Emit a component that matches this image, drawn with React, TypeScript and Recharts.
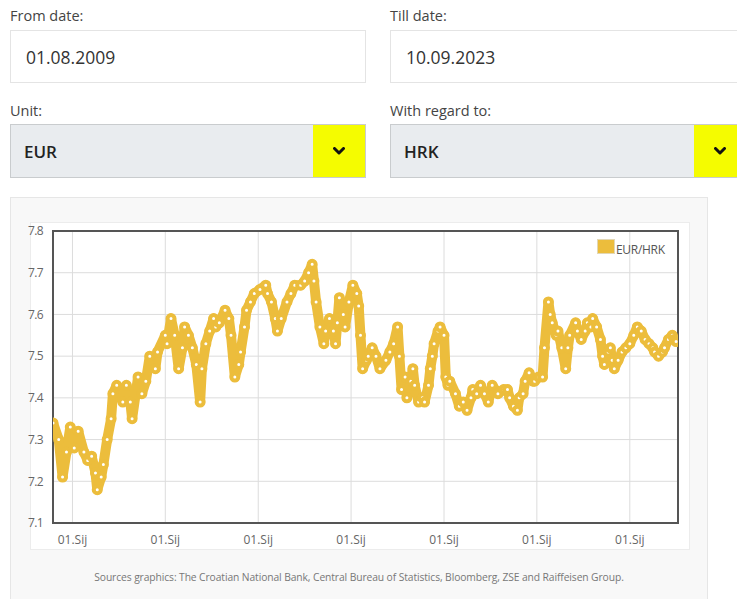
import React from 'react';
import {
  LineChart,
  Line,
  XAxis,
  YAxis,
  CartesianGrid,
  ReferenceArea,
} from 'recharts';

// EUR/HRK middle rate (roughly half-monthly samples)
const dates = [
  '2009-08-01', '2009-09-15', '2009-10-15', '2009-11-15', '2009-12-15',
  '2010-01-15', '2010-02-15', '2010-04-01', '2010-05-01', '2010-06-01', '2010-07-01', '2010-07-15',
  '2010-08-15', '2010-09-01', '2010-10-01', '2010-11-01', '2010-11-15', '2010-12-15',
  '2011-02-01', '2011-03-01', '2011-04-01', '2011-04-15', '2011-06-01', '2011-07-01', '2011-08-01',
  '2011-09-01', '2011-10-15', '2011-11-01',
  '2012-01-01', '2012-01-15', '2012-02-15', '2012-03-15', '2012-04-15', '2012-05-15', '2012-06-01',
  '2012-07-01', '2012-08-01', '2012-09-01', '2012-10-01', '2012-10-15', '2012-11-15', '2012-12-15',
  '2013-01-15', '2013-02-01', '2013-03-01', '2013-04-15', '2013-05-15', '2013-06-01', '2013-07-01',
  '2013-08-01', '2013-08-15', '2013-09-15', '2013-10-01', '2013-11-01', '2013-12-01',
  '2014-01-15', '2014-03-01', '2014-03-15', '2014-04-15', '2014-05-15', '2014-06-01', '2014-07-01',
  '2014-08-15', '2014-09-15', '2014-10-15', '2014-12-01',
  '2015-01-01', '2015-02-01', '2015-03-01', '2015-03-15', '2015-04-01', '2015-05-01', '2015-06-01',
  '2015-06-15', '2015-07-15', '2015-08-15', '2015-09-01', '2015-09-15', '2015-10-01', '2015-11-01',
  '2015-11-15', '2015-12-15',
  '2016-01-15', '2016-02-15', '2016-03-01', '2016-03-15', '2016-04-01', '2016-05-01', '2016-05-15',
  '2016-06-15', '2016-07-15', '2016-08-15', '2016-10-01', '2016-11-01', '2016-12-01',
  '2017-01-01', '2017-01-15', '2017-02-01', '2017-03-01', '2017-03-15', '2017-04-15', '2017-05-01',
  '2017-05-15', '2017-06-15', '2017-07-15', '2017-08-01', '2017-09-01', '2017-09-15', '2017-10-01',
  '2017-10-15', '2017-11-15', '2017-12-01',
  '2018-01-01', '2018-01-15', '2018-02-01', '2018-02-15', '2018-04-01', '2018-05-01', '2018-06-01',
  '2018-07-01', '2018-08-01', '2018-08-15', '2018-09-15', '2018-10-15', '2018-11-15', '2018-12-15',
  '2019-01-15', '2019-03-01', '2019-04-15', '2019-05-15', '2019-06-01', '2019-07-01', '2019-08-01',
  '2019-08-15', '2019-09-15', '2019-10-01', '2019-11-01', '2019-12-01', '2019-12-15',
  '2020-01-15', '2020-02-15', '2020-03-01', '2020-04-01', '2020-04-15', '2020-05-01', '2020-06-01',
  '2020-06-15', '2020-07-15', '2020-08-15', '2020-09-01', '2020-09-15', '2020-11-01', '2020-11-15',
  '2020-12-15',
  '2021-01-15', '2021-02-01', '2021-03-01', '2021-03-15', '2021-04-15', '2021-05-15', '2021-06-01',
  '2021-06-15', '2021-07-15', '2021-08-01', '2021-08-15', '2021-09-01', '2021-10-01', '2021-11-01',
  '2021-12-01',
  '2022-01-01', '2022-02-01', '2022-03-01', '2022-04-01', '2022-05-01', '2022-06-01', '2022-07-01',
  '2022-07-15', '2022-08-15', '2022-09-15', '2022-10-01', '2022-11-01', '2022-12-01', '2022-12-15',
  '2022-12-31',
];

const eurHrk = [
  7.34, 7.30, 7.21, 7.27, 7.33,
  7.28, 7.32, 7.27, 7.25, 7.26, 7.22, 7.18,
  7.21, 7.24, 7.30, 7.35, 7.41, 7.43,
  7.39, 7.43, 7.39, 7.35, 7.45, 7.41, 7.44,
  7.50, 7.47, 7.51,
  7.55, 7.53, 7.59, 7.55, 7.47, 7.52, 7.57,
  7.55, 7.52, 7.48, 7.39, 7.47, 7.53, 7.56,
  7.59, 7.57, 7.58, 7.61, 7.59, 7.55, 7.45,
  7.48, 7.51, 7.57, 7.61, 7.63, 7.65,
  7.66, 7.67, 7.65, 7.63, 7.59, 7.56, 7.59,
  7.63, 7.65, 7.67, 7.67,
  7.68, 7.70, 7.72, 7.68, 7.63, 7.57, 7.53,
  7.56, 7.59, 7.56, 7.53, 7.58, 7.64, 7.60,
  7.57, 7.63,
  7.67, 7.65, 7.62, 7.55, 7.47, 7.49, 7.50,
  7.52, 7.50, 7.47, 7.49, 7.51, 7.53,
  7.57, 7.50, 7.42, 7.45, 7.40, 7.44, 7.47,
  7.43, 7.39, 7.40, 7.39, 7.43, 7.47, 7.50,
  7.53, 7.56, 7.57,
  7.55, 7.45, 7.43, 7.44, 7.41, 7.38, 7.39,
  7.37, 7.40, 7.42, 7.41, 7.43, 7.41, 7.39,
  7.43, 7.41, 7.42, 7.42, 7.40, 7.38, 7.37,
  7.40, 7.41, 7.44, 7.46, 7.44, 7.44,
  7.45, 7.45, 7.52, 7.63, 7.60, 7.58, 7.55,
  7.56, 7.52, 7.47, 7.52, 7.55, 7.58, 7.56,
  7.54,
  7.56, 7.58, 7.57, 7.59, 7.57, 7.54, 7.50,
  7.48, 7.51, 7.52, 7.49, 7.47, 7.49, 7.51,
  7.52,
  7.53, 7.55, 7.57, 7.56, 7.54, 7.53, 7.52,
  7.51, 7.50, 7.51, 7.52, 7.54, 7.55, 7.54,
  7.535,
];

const tickDates = ['2010-01-01', '2012-01-01', '2014-01-01', '2016-01-01', '2018-01-01', '2020-01-01', '2022-01-01'];
const tickLabel = '01.Sij';
const yTicks = [7.1, 7.2, 7.3, 7.4, 7.5, 7.6, 7.7, 7.8];
const xDomain = ['2009-08-01', '2023-01-15'];
const seriesName = 'EUR/HRK';

const YELLOW = '#ECBD3C';
const FONT = '"Open Sans", Arial, sans-serif';

const chartData = dates.map((d, i) => ({ t: Date.parse(d), rate: eurHrk[i] }));
const xTicks = tickDates.map((d) => Date.parse(d));
const [xMin, xMax] = xDomain.map((d) => Date.parse(d));

const Chevron = () => (
  <svg width="12" height="9" viewBox="0 0 12 9">
    <path d="M1.5 1.5 L6 6 L10.5 1.5" fill="none" stroke="#111" strokeWidth="3" strokeLinecap="round" strokeLinejoin="round" />
  </svg>
);

const fieldLabel: React.CSSProperties = {
  position: 'absolute',
  fontFamily: FONT,
  fontSize: 14.5,
  color: '#444',
};

const inputBox: React.CSSProperties = {
  position: 'absolute',
  top: 30,
  height: 53,
  background: '#fff',
  border: '1px solid #e4e4e4',
  boxSizing: 'border-box',
  display: 'flex',
  alignItems: 'center',
  paddingLeft: 15,
  fontFamily: FONT,
  fontSize: 17.5,
  color: '#333',
};

const selectBox: React.CSSProperties = {
  position: 'absolute',
  top: 124,
  height: 54,
  background: '#e9ecef',
  border: '1px solid #c9ccce',
  boxSizing: 'border-box',
  display: 'flex',
  alignItems: 'center',
  paddingLeft: 13,
  fontFamily: FONT,
  fontSize: 17,
  fontWeight: 600,
  color: '#222',
};

const yellowBtn: React.CSSProperties = {
  position: 'absolute',
  top: 0,
  bottom: 0,
  width: 52,
  background: '#f5fc00',
  display: 'flex',
  alignItems: 'center',
  justifyContent: 'center',
};

export default function App() {
  return (
    <div style={{ position: 'absolute', left: 0, top: 0, width: 737, height: 599, overflow: 'hidden', background: '#fff' }}>
      <div style={{ ...fieldLabel, left: 10, top: 6 }}>From date:</div>
      <div style={{ ...fieldLabel, left: 390, top: 6 }}>Till date:</div>
      <div style={{ ...inputBox, left: 10, width: 356 }}>01.08.2009</div>
      <div style={{ ...inputBox, left: 390, width: 370 }}>10.09.2023</div>

      <div style={{ ...fieldLabel, left: 10, top: 101 }}>Unit:</div>
      <div style={{ ...fieldLabel, left: 390, top: 101 }}>With regard to:</div>
      <div style={{ ...selectBox, left: 10, width: 356 }}>
        EUR
        <div style={{ ...yellowBtn, right: 0 }}>
          <Chevron />
        </div>
      </div>
      <div style={{ ...selectBox, left: 390, width: 360 }}>
        HRK
        <div style={{ ...yellowBtn, left: 303 }}>
          <Chevron />
        </div>
      </div>

      {/* chart panel */}
      <div
        style={{
          position: 'absolute',
          left: 10,
          top: 197,
          width: 698,
          height: 420,
          background: '#f8f8f8',
          border: '1px solid #e6e6e6',
          boxSizing: 'border-box',
        }}
      />
      <div
        style={{
          position: 'absolute',
          left: 30,
          top: 222,
          width: 660,
          height: 328,
          background: '#fff',
          border: '1px solid #ececec',
          boxSizing: 'border-box',
        }}
      />
      <div style={{ position: 'absolute', left: 10, top: 222 }}>
        <LineChart width={680} height={328} data={chartData} margin={{ top: 9, right: 12, left: 0, bottom: 0 }}>
          <CartesianGrid stroke="#dcdcdc" strokeWidth={1} />
          <XAxis
            dataKey="t"
            type="number"
            domain={[xMin, xMax]}
            ticks={xTicks}
            tickFormatter={() => tickLabel}
            height={27}
            axisLine={false}
            tickLine={false}
            tickMargin={6}
            tick={{ fill: '#666', fontSize: 12, fontFamily: FONT }}
            allowDataOverflow
          />
          <YAxis
            type="number"
            domain={[7.1, 7.8]}
            ticks={yTicks}
            width={43}
            axisLine={false}
            tickLine={false}
            tickMargin={4}
            tickFormatter={(v: number) => v.toFixed(1)}
            tick={{ fill: '#666', fontSize: 12, fontFamily: FONT, letterSpacing: -0.6 }}
            allowDataOverflow
          />
          <ReferenceArea
            x1={xMin}
            x2={xMax}
            y1={7.1}
            y2={7.8}
            fill="none"
            fillOpacity={0}
            stroke="#555"
            strokeWidth={2}
            ifOverflow="visible"
          />
          <Line
            type="linear"
            dataKey="rate"
            name={seriesName}
            stroke={YELLOW}
            strokeWidth={10}
            strokeLinejoin="round"
            strokeLinecap="round"
            dot={{ r: 3.5, fill: '#fff', stroke: YELLOW, strokeWidth: 4 }}
            isAnimationActive={false}
          />
        </LineChart>
      </div>

      {/* legend */}
      <div
        style={{
          position: 'absolute',
          left: 597,
          top: 238,
          display: 'flex',
          alignItems: 'center',
          fontFamily: FONT,
          fontSize: 12,
          color: '#555',
        }}
      >
        <span
          style={{
            display: 'inline-block',
            width: 16,
            height: 13,
            background: YELLOW,
            border: '1px solid #e2d7b4',
            marginRight: 1,
          }}
        />
        <span style={{ position: 'relative', top: 3, letterSpacing: -0.3 }}>{seriesName}</span>
      </div>

      <div
        style={{
          position: 'absolute',
          left: 10,
          width: 698,
          top: 570,
          textAlign: 'center',
          fontFamily: FONT,
          fontSize: 10.3,
          color: '#777',
          letterSpacing: -0.1,
        }}
      >
        Sources graphics: The Croatian National Bank, Central Bureau of Statistics, Bloomberg, ZSE and Raiffeisen Group.
      </div>
    </div>
  );
}
